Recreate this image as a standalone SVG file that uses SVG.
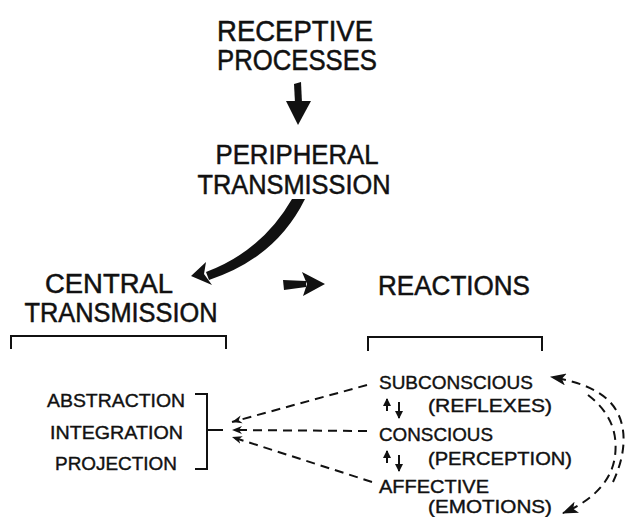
<svg xmlns="http://www.w3.org/2000/svg" width="628" height="517" viewBox="0 0 628 517">
  <style>
    text { font-family: "Liberation Sans", Arial, sans-serif; fill: #111; stroke: #111; stroke-width: 0.5; }
    .big { font-size: 29px; }
    .mid { font-size: 27px; }
    .small { font-size: 19px; stroke-width: 0.4; }
    .dash { fill: none; stroke: #111; stroke-width: 2; stroke-dasharray: 9 6; }
    .solid { fill: none; stroke: #111; stroke-width: 2; }
    .ink { fill: #111; stroke: none; }
  </style>
  <defs>
    <marker id="tip" viewBox="0 0 10 10" refX="10" refY="5" markerWidth="10" markerHeight="10" markerUnits="userSpaceOnUse" orient="auto">
      <path d="M0,1 L10,5 L0,9 L3,5 Z" fill="#111"/>
    </marker>
    <marker id="head" viewBox="0 0 16 12" refX="15" refY="6" markerWidth="16" markerHeight="12" markerUnits="userSpaceOnUse" orient="auto">
      <path d="M0,0 L16,6 L0,12 L4,6 Z" fill="#111"/>
    </marker>
    <marker id="mini" viewBox="0 0 8 8" refX="7" refY="4" markerWidth="8" markerHeight="8" markerUnits="userSpaceOnUse" orient="auto">
      <path d="M0,0 L8,4 L0,8 Z" fill="#111"/>
    </marker>
  </defs>

  <g id="receptive">
    <text class="big" x="295" y="41" text-anchor="middle" textLength="156" lengthAdjust="spacingAndGlyphs">RECEPTIVE</text>
    <text class="big" x="297" y="70" text-anchor="middle" textLength="160" lengthAdjust="spacingAndGlyphs">PROCESSES</text>
  </g>

  <g id="peripheral">
    <text class="mid" x="297" y="164" text-anchor="middle" textLength="163" lengthAdjust="spacingAndGlyphs">PERIPHERAL</text>
    <text class="mid" x="294" y="194" text-anchor="middle" textLength="193" lengthAdjust="spacingAndGlyphs">TRANSMISSION</text>
  </g>

  <g id="central">
    <text class="mid" x="109" y="293" text-anchor="middle" textLength="128" lengthAdjust="spacingAndGlyphs">CENTRAL</text>
    <text class="mid" x="121" y="322" text-anchor="middle" textLength="193" lengthAdjust="spacingAndGlyphs">TRANSMISSION</text>
    <path class="solid" d="M11,349 L11,336 L226,336 L226,349"/>
  </g>

  <g id="reactions">
    <text class="mid" x="454" y="295" text-anchor="middle" textLength="152" lengthAdjust="spacingAndGlyphs">REACTIONS</text>
    <path class="solid" d="M368,351 L368,337 L542,337 L542,351"/>
  </g>

  <g id="functions">
    <text class="small" x="47" y="407" textLength="138" lengthAdjust="spacingAndGlyphs">ABSTRACTION</text>
    <text class="small" x="50" y="439" textLength="133" lengthAdjust="spacingAndGlyphs">INTEGRATION</text>
    <text class="small" x="55" y="470" textLength="122" lengthAdjust="spacingAndGlyphs">PROJECTION</text>
    <path class="solid" d="M195,394 L207,394 L207,469 L195,469 M207,430 L223,430"/>
  </g>

  <g id="subconscious">
    <text class="small" x="379" y="389" textLength="154" lengthAdjust="spacingAndGlyphs">SUBCONSCIOUS</text>
    <text class="small" x="428" y="412" textLength="124" lengthAdjust="spacingAndGlyphs">(REFLEXES)</text>
  </g>

  <g id="conscious">
    <text class="small" x="379" y="441" textLength="114" lengthAdjust="spacingAndGlyphs">CONSCIOUS</text>
    <text class="small" x="428" y="465" textLength="144" lengthAdjust="spacingAndGlyphs">(PERCEPTION)</text>
  </g>

  <g id="affective">
    <text class="small" x="379" y="493" textLength="110" lengthAdjust="spacingAndGlyphs">AFFECTIVE</text>
    <text class="small" x="428" y="513" textLength="124" lengthAdjust="spacingAndGlyphs">(EMOTIONS)</text>
  </g>

  <g id="connectors">
    <!-- receptive to peripheral -->
    <path class="ink" d="M294,84 L301,82 L302,103 L295,103 Z"/>
    <path class="ink" d="M286,101 L311,101 L298,125 Z"/>

    <!-- peripheral to central: tapered curve -->
    <path class="ink" d="M292,199 L305,199 Q276,258 209,280 L206,272 Q262,251 292,199 Z"/>
    <path class="ink" d="M191,276 L206,262 L204,274 L212,285 Z"/>

    <!-- central to reactions -->
    <path class="ink" d="M283,280 L306,281 L306,287 L284,290 Z"/>
    <path class="ink" d="M302,272 L325,284 L303,296 L307,284 Z"/>

    <!-- dashed feedback lines into the bracket -->
    <path class="dash" d="M367,385 L232,422" marker-end="url(#tip)"/>
    <path class="dash" d="M367,431 L232,430" marker-end="url(#tip)"/>
    <path class="dash" d="M372,482 L232,437" marker-end="url(#tip)"/>

    <!-- up/down arrows between reaction levels -->
    <path class="solid" d="M387,411 L387,399" stroke-width="1.6" marker-end="url(#mini)"/>
    <path class="solid" d="M399,402 L399,418" stroke-width="1.6" marker-end="url(#mini)"/>
    <path class="solid" d="M387,463 L387,451" stroke-width="1.6" marker-end="url(#mini)"/>
    <path class="solid" d="M399,455 L399,471" stroke-width="1.6" marker-end="url(#mini)"/>

    <!-- double dashed loop between subconscious and emotions -->
    <path class="dash" d="M613,482 C628,450 628,418 607,399 C593,387 575,381 551,377" marker-end="url(#head)"/>
    <path class="dash" d="M588,395 C610,412 618,432 615,456 C612,480 594,500 563,513" marker-end="url(#head)"/>
  </g>
</svg>
